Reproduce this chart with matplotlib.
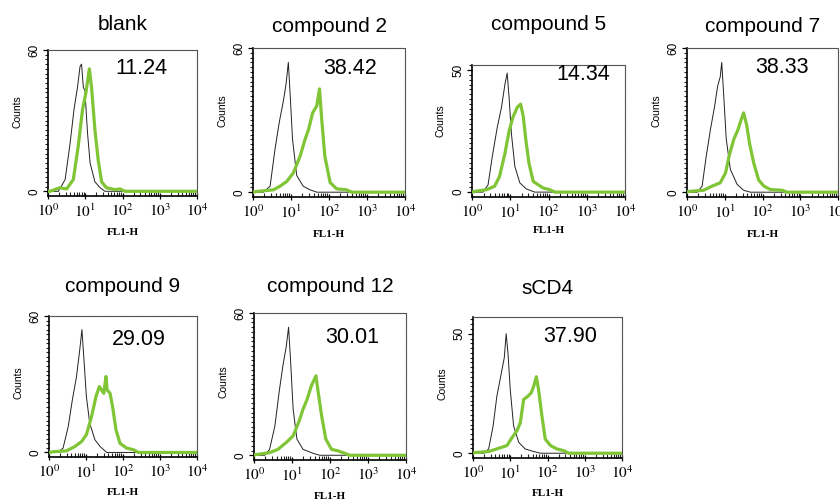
import numpy as np
import matplotlib
matplotlib.use("Agg")
import matplotlib.pyplot as plt
from matplotlib.ticker import FixedLocator, MultipleLocator, NullFormatter

# ---------------------------------------------------------------------------
# Data (x in log10 of FL1-H, y in counts)
# ---------------------------------------------------------------------------
panel_titles = ["blank", "compound 2", "compound 5", "compound 7",
                "compound 9", "compound 12", "sCD4"]
panel_values = ["11.24", "38.42", "14.34", "38.33", "29.09", "30.01", "37.90"]
panel_ytick_top = [60, 60, 50, 60, 60, 60, 50]
panel_ylim_top = [60, 60, 52, 60, 60, 60, 57]
decade_labels = [r"$10^{0}$", r"$10^{1}$", r"$10^{2}$", r"$10^{3}$", r"$10^{4}$"]
decades = [1, 10, 100, 1000, 10000]
minor_subs = [2, 3, 4, 5, 6, 7, 8, 9]

blank_ctrl_x = [0.0, 0.28, 0.46, 0.59, 0.70, 0.79, 0.86, 0.90, 0.95, 0.99, 1.06, 1.13, 1.26, 1.40, 1.53, 4.0]
blank_ctrl_y = [0, 0, 5, 20, 35, 44, 53, 54, 44, 43, 25, 12, 4, 1.5, 0, 0]
blank_trt_x = [0.0, 0.05, 0.32, 0.50, 0.68, 0.81, 0.93, 1.02, 1.11, 1.17, 1.26, 1.35, 1.44, 1.57, 1.80, 1.93, 2.07, 4.0]
blank_trt_y = [0, 0, 1.5, 1, 5, 19, 35, 42, 52, 44, 26, 13, 4, 1.5, 0.7, 1, 0, 0]

c2_ctrl_x = [0.0, 0.27, 0.45, 0.58, 0.69, 0.80, 0.87, 0.93, 0.97, 1.04, 1.15, 1.32, 1.50, 1.68, 4.0]
c2_ctrl_y = [0, 0, 2.5, 18, 29, 38, 45, 54, 43, 22, 7, 2.5, 1, 0, 0]
c2_trt_x = [0.0, 0.10, 0.54, 0.71, 0.89, 1.06, 1.24, 1.37, 1.46, 1.57, 1.68, 1.75, 1.81, 1.89, 2.03, 2.20, 2.46, 2.60, 4.0]
c2_trt_y = [0, 0.3, 1, 2.5, 4.5, 8, 15, 22, 26, 33, 36, 43, 30, 15, 4, 1.4, 1, 0, 0]

c5_ctrl_x = [0.0, 0.29, 0.42, 0.53, 0.66, 0.77, 0.86, 0.92, 0.97, 1.03, 1.12, 1.25, 1.42, 1.64, 4.0]
c5_ctrl_y = [0, 0, 3, 14.5, 26.5, 34.6, 44, 48.7, 38.6, 24, 10.5, 3.8, 1.3, 0, 0]
c5_trt_x = [0.0, 0.07, 0.38, 0.59, 0.72, 0.86, 0.97, 1.07, 1.18, 1.27, 1.34, 1.41, 1.49, 1.60, 1.73, 1.86, 2.03, 2.17, 4.0]
c5_trt_y = [0, 0.3, 1, 2.4, 6.4, 15.8, 25, 30.6, 34.6, 36, 31, 21, 11.8, 4.4, 3, 1.7, 1, 0, 0]

c7_ctrl_x = [0.0, 0.27, 0.40, 0.51, 0.62, 0.73, 0.81, 0.88, 0.92, 0.97, 1.04, 1.15, 1.33, 1.50, 1.68, 4.0]
c7_ctrl_y = [0, 0, 2.5, 15, 26, 35.6, 44, 48, 54, 41, 22, 9.4, 3.2, 0.8, 0, 0]
c7_trt_x = [0.0, 0.04, 0.44, 0.66, 0.88, 1.02, 1.13, 1.24, 1.35, 1.43, 1.50, 1.58, 1.66, 1.77, 1.90, 2.04, 2.21, 2.52, 2.65, 4.0]
c7_trt_y = [0, 0.3, 0.8, 2.5, 3.9, 8, 16, 22, 26, 30, 33, 28, 20, 12, 5, 2.5, 1.1, 0.8, 0, 0]

c9_ctrl_x = [0.0, 0.24, 0.38, 0.52, 0.63, 0.74, 0.83, 0.89, 0.94, 1.01, 1.10, 1.24, 1.38, 1.56, 4.0]
c9_ctrl_y = [0, 0, 1.9, 11.4, 23, 33, 45, 54, 42, 24.6, 12.9, 5.6, 2.6, 0, 0]
c9_trt_x = [0.0, 0.11, 0.47, 0.70, 0.88, 1.01, 1.15, 1.27, 1.36, 1.42, 1.48, 1.54, 1.57, 1.65, 1.72, 1.81, 1.92, 2.10, 2.28, 2.42, 4.0]
c9_trt_y = [0, 0.3, 0.7, 2.6, 4.8, 7.8, 15.8, 24.6, 29, 27.5, 26, 33.4, 27.5, 26, 20, 10, 4, 1.9, 1.2, 0, 0]

c12_ctrl_x = [0.0, 0.28, 0.41, 0.55, 0.66, 0.76, 0.85, 0.91, 0.96, 1.03, 1.13, 1.29, 1.56, 1.73, 4.0]
c12_ctrl_y = [0, 0, 2.5, 12.4, 26.5, 37.7, 46, 54, 40.6, 19.4, 6.8, 2.5, 0.8, 0, 0]
c12_trt_x = [0.0, 0.06, 0.41, 0.63, 0.85, 1.03, 1.19, 1.29, 1.40, 1.51, 1.63, 1.69, 1.78, 1.89, 2.04, 2.22, 2.39, 2.52, 4.0]
c12_trt_y = [0, 0.3, 1.1, 2.5, 5.4, 8.2, 14.5, 19.4, 23.7, 29.3, 33.5, 26.5, 16.6, 6.8, 2.5, 1.8, 0.8, 0, 0]

scd4_ctrl_x = [0.0, 0.29, 0.42, 0.54, 0.64, 0.76, 0.84, 0.89, 0.94, 1.00, 1.09, 1.23, 1.40, 1.63, 1.81, 4.0]
scd4_ctrl_y = [0, 0, 1.8, 11.4, 23.8, 33.5, 40, 50, 41.7, 26.6, 11.4, 4.5, 1.8, 0.7, 0, 0]
scd4_trt_x = [0.0, 0.06, 0.42, 0.64, 0.91, 1.05, 1.18, 1.27, 1.36, 1.47, 1.56, 1.63, 1.70, 1.76, 1.85, 1.94, 2.08, 2.25, 2.43, 2.57, 4.0]
scd4_trt_y = [0, 0.3, 0.7, 1.8, 3.2, 6.6, 9.4, 12.8, 22.5, 23.8, 25.2, 28, 32, 26.6, 15.6, 5.9, 3.2, 1.8, 1.1, 0, 0]

ctrl_curves = [(blank_ctrl_x, blank_ctrl_y), (c2_ctrl_x, c2_ctrl_y), (c5_ctrl_x, c5_ctrl_y),
               (c7_ctrl_x, c7_ctrl_y), (c9_ctrl_x, c9_ctrl_y), (c12_ctrl_x, c12_ctrl_y),
               (scd4_ctrl_x, scd4_ctrl_y)]
trt_curves = [(blank_trt_x, blank_trt_y), (c2_trt_x, c2_trt_y), (c5_trt_x, c5_trt_y),
              (c7_trt_x, c7_trt_y), (c9_trt_x, c9_trt_y), (c12_trt_x, c12_trt_y),
              (scd4_trt_x, scd4_trt_y)]

# ---------------------------------------------------------------------------
# Layout (pixel boxes: left, top, right, bottom)
# ---------------------------------------------------------------------------
W, H = 840, 500
boxes = [(48, 50, 197, 196), (253, 48, 405, 197), (472, 65, 625, 197), (687, 48, 838, 197),
         (49, 316, 197, 457), (254, 313, 406, 460), (473, 317, 622, 458)]
title_y = [25, 27, 25, 27, 287, 287, 288]
value_pos = [(0.63, 0.87), (0.64, 0.86), (0.73, 0.93), (0.63, 0.87),
             (0.61, 0.83), (0.645, 0.83), (0.65, 0.86)]

GREEN = "#7fc535"

plt.rcParams["mathtext.fontset"] = "stix"
plt.rcParams["xtick.minor.visible"] = True
plt.rcParams["ytick.minor.visible"] = True
fig = plt.figure(figsize=(W / 100, H / 100), dpi=100)

minor_x = [d * s for d in decades[:-1] for s in minor_subs]

for i, (l, t, r, b) in enumerate(boxes):
    ax = fig.add_axes([l / W, 1 - b / H, (r - l) / W, (b - t) / H])
    ax.set_xscale("log")

    cx, cy = ctrl_curves[i]
    tx, ty = trt_curves[i]
    ax.plot(10 ** np.array(cx), cy, color="#222222", lw=0.7, zorder=2)
    ax.plot(10 ** np.array(tx), ty, color=GREEN, lw=2.3, zorder=3)

    ax.set_xlim(1, 1e4)
    ax.set_ylim(-2, panel_ylim_top[i])

    # x axis: decades + log minor ticks
    ax.set_xticks(decades)
    ax.set_xticklabels(decade_labels, fontsize=11)
    ax.set_xticks(minor_x, minor=True)
    ax.xaxis.set_minor_formatter(NullFormatter())

    # y axis: 0 and top tick, dense minor ticks
    ax.set_yticks([0, panel_ytick_top[i]])
    ax.set_yticklabels(["0", str(panel_ytick_top[i])], fontsize=8.5,
                       family="Liberation Sans", rotation=90, va="center")
    ax.set_yticks(list(range(2, panel_ylim_top[i] + 1, 2)), minor=True)

    ax.tick_params(axis="y", which="major", direction="out", length=3.5, width=0.9, pad=2)
    ax.tick_params(axis="y", which="minor", direction="out", length=2.2, width=0.8,
                   left=True, color="#222222")
    ax.tick_params(axis="x", which="major", direction="inout", length=5, width=0.9, pad=2)
    ax.tick_params(axis="x", which="minor", direction="in", length=3, width=0.8,
                   bottom=True, color="#222222")

    for s in ["left", "bottom"]:
        ax.spines[s].set_linewidth(1.2)
    for s in ["top", "right"]:
        ax.spines[s].set_linewidth(0.8)
        ax.spines[s].set_color("#555555")
        ax.spines[s].set_linestyle((0, (1, 0.6)))

    ax.set_xlabel("FL1-H", fontsize=8, family="Liberation Serif", fontweight="bold")
    ax.xaxis.set_label_coords(0.5, -0.22)
    ax.set_ylabel("Counts", fontsize=7.5, family="Liberation Sans")
    ax.yaxis.set_label_coords(-0.17, 0.58 if i < 4 else 0.53)

    vx, vy = value_pos[i]
    ax.text(vx, vy, panel_values[i], transform=ax.transAxes, ha="center", va="center",
            fontsize=15.5, family="Liberation Sans")

    fig.text((l + r) / 2 / W, 1 - title_y[i] / H, panel_titles[i], ha="center", va="center",
             fontsize=15, family="Liberation Sans")

fig.savefig("out.png", dpi=100, facecolor="white")
